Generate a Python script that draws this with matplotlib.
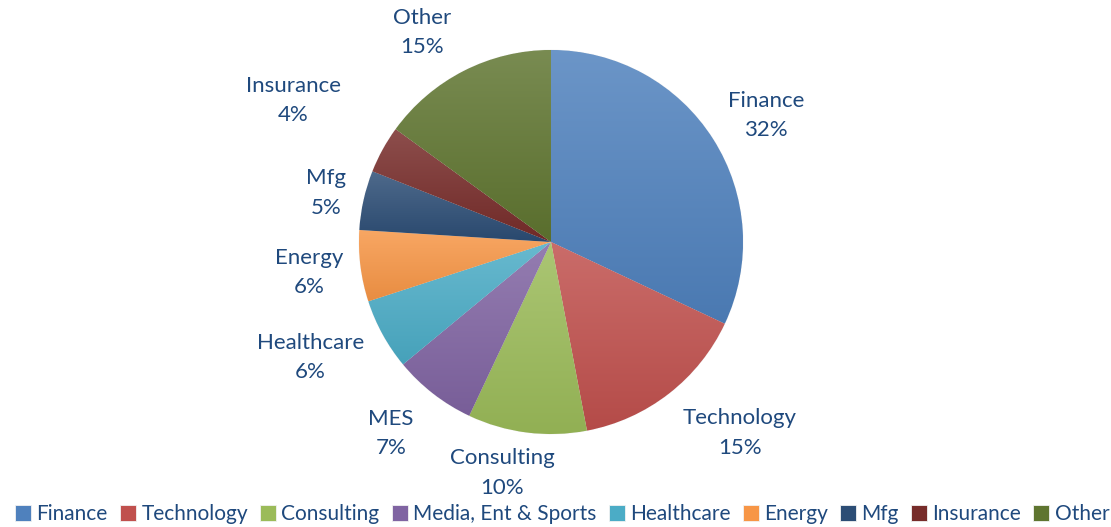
import numpy as np
import matplotlib.pyplot as plt
from matplotlib.colors import to_rgb

plt.rcParams['font.family'] = ['Lato', 'DejaVu Sans']

sectors = ['Finance', 'Technology', 'Consulting', 'Media, Ent & Sports', 'Healthcare',
           'Energy', 'Mfg', 'Insurance', 'Other']
short_names = ['Finance', 'Technology', 'Consulting', 'MES', 'Healthcare',
               'Energy', 'Mfg', 'Insurance', 'Other']
shares = [32, 15, 10, 7, 6, 6, 5, 4, 15]
colors = ['#4F81BD', '#C0504D', '#9BBB59', '#8064A2', '#4BACC6',
          '#F79646', '#2C4D75', '#772C2A', '#5F7530']

# label layout: distance from centre (in radii) and angle nudge (degrees)
label_r = [1.30, 1.40, 1.23, 1.30, 1.39, 1.27, 1.20, 1.53, 1.28]
label_da = [1.9, -6.9, 4.7, 2.1, 3.2, 0.0, -0.3, 0.0, -4.6]

text_color = '#1F497D'
W, H = 1111, 527
cx, cy, R = 551, 285, 192

fig = plt.figure(figsize=(W / 100, H / 100), dpi=100)
ax = fig.add_axes([0, 0, 1, 1])

wedges, _ = ax.pie(shares, colors=colors, startangle=90, counterclock=False,
                   center=(cx, cy), radius=R,
                   wedgeprops=dict(edgecolor='#F2F2F2', linewidth=0.6))
ax.set_xlim(0, W)
ax.set_ylim(0, H)
ax.set_aspect('equal')
ax.axis('off')


def shade(c, f):
    c = np.array(to_rgb(c))
    if f > 0:
        return c + (1 - c) * f
    return c * (1 + f)


# gradient fill inside each wedge (lighter at top, darker at bottom)
for w, c in zip(wedges, colors):
    bb = w.get_path().get_extents()
    t = np.linspace(0, 1, 64)[:, None]
    top, bot = shade(c, 0.16), shade(c, -0.06)
    grad = (top * (1 - t) + bot * t)[:, None, :]
    im = ax.imshow(grad, extent=(bb.x0, bb.x1, bb.y0, bb.y1), origin='upper',
                   aspect='auto', interpolation='bilinear', zorder=1.5)
    im.set_clip_path(w)

# outside-end data labels
total = sum(shares)
start = 0
for i, v in enumerate(shares):
    mid = (start + v / 2) / total * 360 + label_da[i]
    start += v
    a = np.radians(mid)
    x = cx + label_r[i] * R * np.sin(a)
    y = cy + label_r[i] * R * np.cos(a)
    ax.text(x, y, f'{short_names[i]}\n{round(v / total * 100)}%', ha='center', va='center',
            color=text_color, fontsize=16, linespacing=1.6)

fig.legend(wedges, sectors, loc='lower center', bbox_to_anchor=(0.506, -0.03), ncol=9,
           frameon=False, fontsize=15, labelcolor=text_color, handlelength=0.78,
           handleheight=0.78, handletextpad=0.25, columnspacing=0.58)

fig.savefig('out.png', dpi=100)
